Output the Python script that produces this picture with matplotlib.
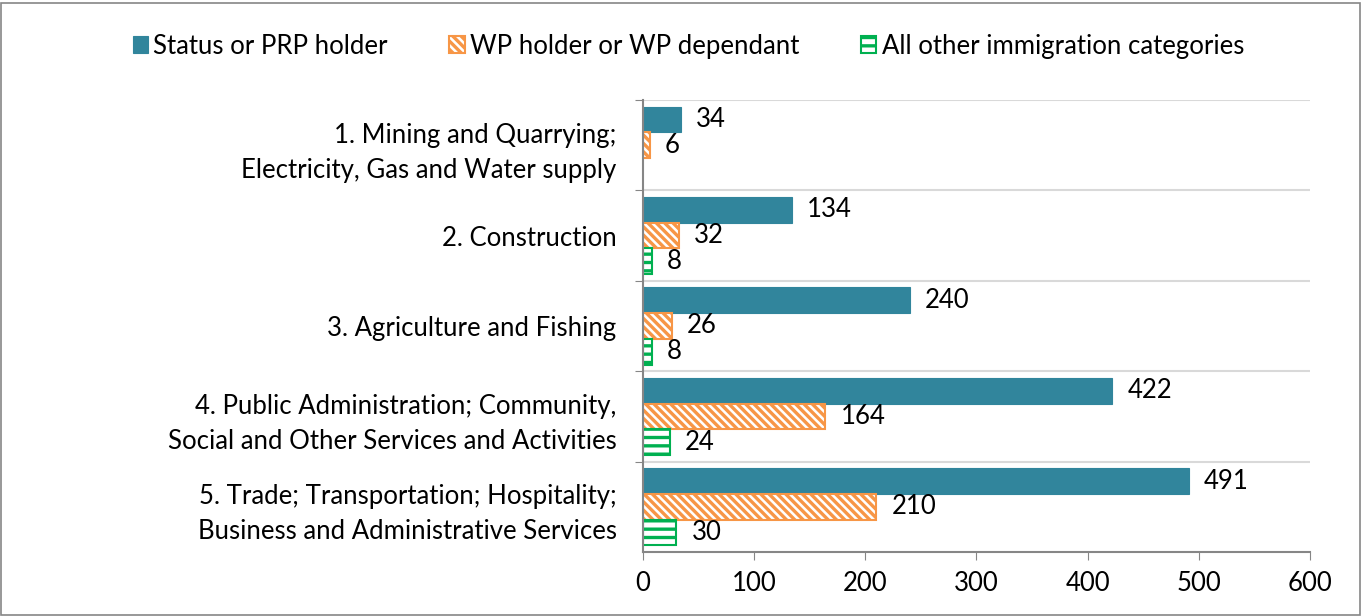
import matplotlib
matplotlib.use("Agg")
import matplotlib.pyplot as plt
from matplotlib.patches import Rectangle, Patch
import numpy as np

# Employment by sector and immigration status
SECTORS = [
    "1. Mining and Quarrying;\nElectricity, Gas and Water supply",
    "2. Construction",
    "3. Agriculture and Fishing",
    "4. Public Administration; Community,\nSocial and Other Services and Activities",
    "5. Trade; Transportation; Hospitality;\nBusiness and Administrative Services",
]
SERIES_NAMES = [
    "Status or PRP holder",
    "WP holder or WP dependant",
    "All other immigration categories",
]
STATUS_PRP = [34, 134, 240, 422, 491]
WP_HOLDER = [6, 32, 26, 164, 210]
OTHER = [None, 8, 8, 24, 30]

plt.rcParams["font.family"] = ["Lato", "DejaVu Sans"]
plt.rcParams["hatch.linewidth"] = 2.4

FS = 18.5
TEAL = "#31859C"
ORANGE = "#F79646"
GREEN = "#00B050"
AXIS_GREY = "#868686"
GRID_GREY = "#D9D9D9"

styles = [
    dict(facecolor=TEAL, edgecolor=TEAL, linewidth=0.8),
    dict(facecolor="white", edgecolor=ORANGE, hatch=r"\\\\", linewidth=1.5),
    dict(facecolor="white", edgecolor=GREEN, hatch="--", linewidth=1.5),
]

fig = plt.figure(figsize=(13.63, 6.16), dpi=100)
ax = fig.add_axes([0.4717, 0.1039, 0.4894, 0.7338])

y = np.arange(len(SECTORS))
bar_h = 0.285
offsets = [-bar_h, 0.0, bar_h]

for vals, off, st in zip([STATUS_PRP, WP_HOLDER, OTHER], offsets, styles):
    for yi, v in zip(y, vals):
        if v is None:
            continue
        ax.barh(yi + off, v, height=bar_h, **st)
        ax.annotate(str(v), xy=(v, yi + off), xytext=(11, 0),
                    textcoords="offset points", va="center", ha="left",
                    fontsize=FS, color="black")

ax.set_xlim(0, 600)
ax.set_ylim(len(SECTORS) - 0.5, -0.5)
ax.set_xticks(np.arange(0, 601, 100))
ax.tick_params(axis="x", labelsize=FS, length=6, color=AXIS_GREY, pad=8)

# gridlines and ticks on category boundaries, labels in the middle
bounds = np.arange(len(SECTORS)) - 0.5
ax.set_yticks(bounds)
ax.set_yticklabels([])
ax.tick_params(axis="y", which="major", length=6, color=AXIS_GREY)
ax.set_yticks(y, minor=True)
ax.set_yticklabels(SECTORS, minor=True, fontsize=FS, ha="right",
                   multialignment="right", linespacing=1.5)
ax.tick_params(axis="y", which="minor", length=0, pad=19)
for b in bounds:
    ax.axhline(b, color=GRID_GREY, linewidth=1.5, zorder=0)

for side in ["top", "right"]:
    ax.spines[side].set_visible(False)
for side in ["left", "bottom"]:
    ax.spines[side].set_color(AXIS_GREY)
    ax.spines[side].set_linewidth(1.5)

handles = [Patch(label=n, **st) for n, st in zip(SERIES_NAMES, styles)]
fig.legend(handles=handles, loc="center", bbox_to_anchor=(0.505, 0.925), ncol=3,
           frameon=False, fontsize=FS, handlelength=0.6, handleheight=0.6,
           handletextpad=0.2, columnspacing=2.4)

fig.patches.append(Rectangle((0.001, 0.001), 0.997, 0.994, transform=fig.transFigure,
                             fill=False, edgecolor=AXIS_GREY, linewidth=1.2))

fig.savefig("out.png", dpi=100)
